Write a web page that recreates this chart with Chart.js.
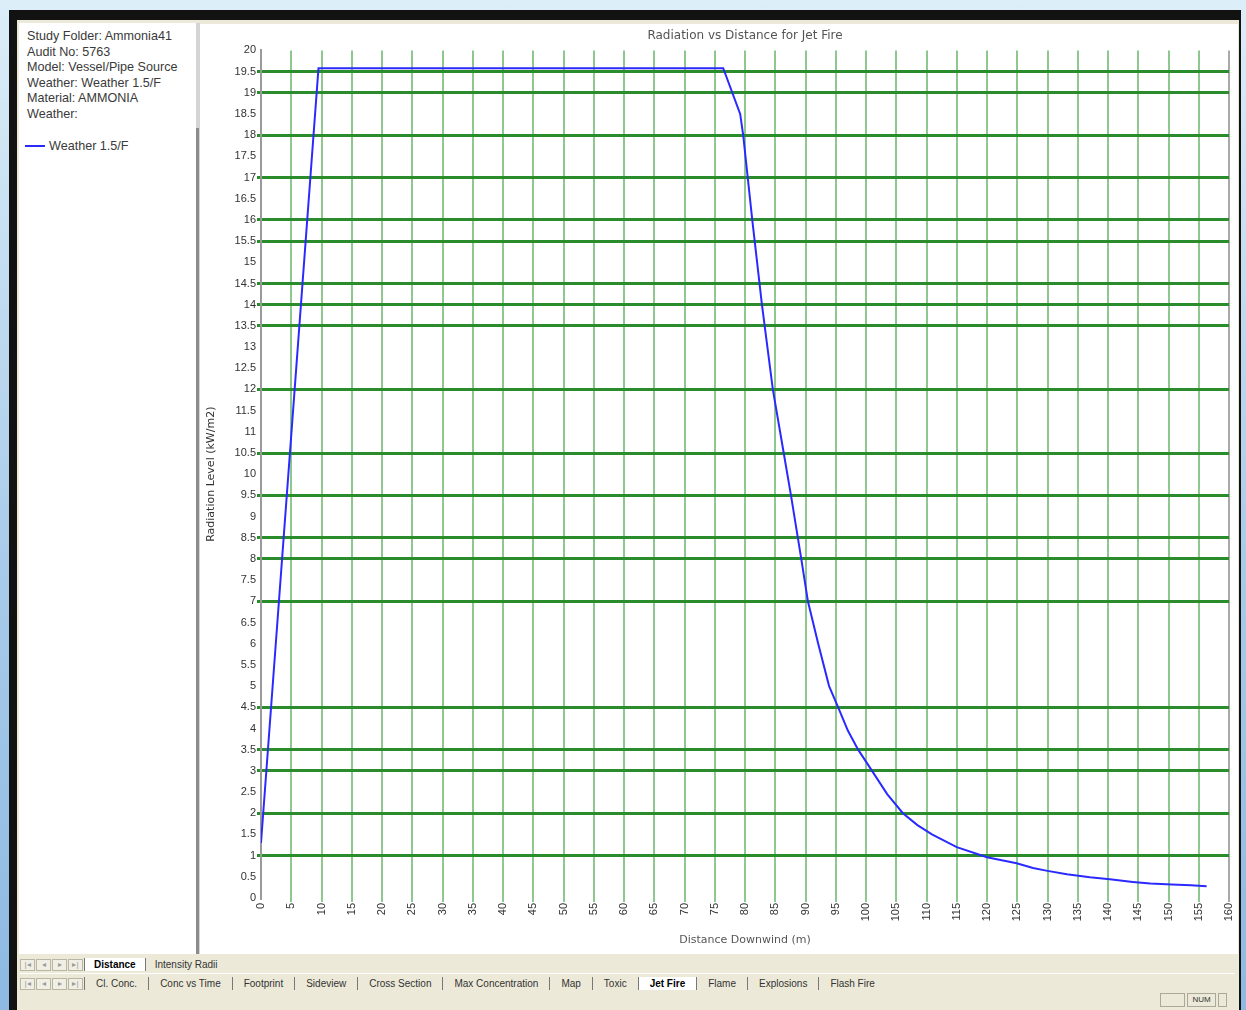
<!DOCTYPE html>
<html>
<head>
<meta charset="utf-8">
<script src="https://cdn.jsdelivr.net/npm/chart.js@4/dist/chart.umd.min.js"></script>
<style>
  body { margin: 0; width: 1246px; height: 1010px; overflow: hidden; position: relative;
         background: linear-gradient(#dceef8, #a9cbe9 55%, #8db9e2); font-family: "Liberation Sans", Arial, sans-serif; }
  #frame { position: absolute; left: 9px; top: 10px; width: 1232px; height: 1000px; background: #121212; }
  #inner { position: absolute; left: 17px; top: 20px; width: 1222px; height: 990px; background: #ece9d8; }
  #info { position: absolute; left: 19px; top: 23px; width: 177px; height: 931px; background: #fff;
          font-size: 12.6px; color: #3a3a3a; }
  #info .lines { position: absolute; left: 8px; top: 6px; line-height: 15.6px; white-space: nowrap; }
  #info .lines div { height: 15.6px; }
  #legend { position: absolute; left: 6px; top: 116px; display: flex; align-items: center; white-space: nowrap; }
  #legend i { display: inline-block; width: 20px; height: 2px; background: #2a2aff; margin-right: 4px; }
  #sepA { position: absolute; left: 196px; top: 23px; width: 4px; height: 931px; background: #d4d4d4; }
  #sepB { position: absolute; left: 196px; top: 128px; width: 3px; height: 826px; background: #8c8c8c; }
  #plot { position: absolute; left: 200px; top: 24px; width: 1038px; height: 930px; background: #fff; }
  .row { position: absolute; left: 20px; height: 15px; display: flex; align-items: center;
         font-size: 10px; color: #333; white-space: nowrap; }
  .nav { width: 15px; height: 12px; border: 1px solid #b9b6a6; box-sizing: border-box; margin-right: 1px;
         background: #f1efe4; color: #999; font-size: 8px; text-align: center; line-height: 10px; }
  .tab { padding: 0 11px 0 11px; border-left: 1px solid #777; line-height: 13px; }
  .tab.on { background: #fff; font-weight: bold; color: #000; }
  #row1 .tab { padding: 0 9px; }
  #row1 { top: 957px; }
  #row2 { top: 976px; }
  #rowline { position: absolute; left: 20px; top: 973px; width: 1215px; height: 1px; background: #fff; }
  .st { position: absolute; top: 993px; height: 14px; border: 1px solid #aca899; box-sizing: border-box;
        font-size: 8px; color: #333; text-align: center; line-height: 12px; }
</style>
</head>
<body>
<div id="frame"></div>
<div id="inner"></div>
<div id="info">
  <div class="lines">
    <div>Study Folder: Ammonia41</div>
    <div>Audit No: 5763</div>
    <div>Model: Vessel/Pipe Source</div>
    <div>Weather: Weather 1.5/F</div>
    <div>Material: AMMONIA</div>
    <div>Weather:</div>
  </div>
  <div id="legend"><i></i><span id="legendText"></span></div>
</div>
<div id="sepA"></div>
<div id="sepB"></div>
<div id="plot"><canvas id="chart"></canvas></div>
<div class="row" id="row1"></div>
<div id="rowline"></div>
<div class="row" id="row2"></div>
<div class="st" style="left:1160px;width:25px"></div>
<div class="st" style="left:1187px;width:29px">NUM</div>
<div class="st" style="left:1218px;width:9px"></div>

<script>
// radiation curve
const seriesName = 'Weather 1.5/F';
const distance = [0, 9.5, 76.4, 79.2, 79.7, 81.2, 82.8, 84.6, 86.4, 87.6, 89.3, 90.4, 92.1, 93.9, 95.4, 97.0,
  98.7, 101.0, 103.5, 106.1, 108.5, 110.9, 115.0, 120.0, 124.9, 127.6, 130.0, 133.2, 137.0, 140.3, 144.1, 147.0,
  150.5, 153.7, 156.3];
const radiation = [1.3, 19.58, 19.58, 18.5, 18.0, 16.0, 14.0, 12.0, 10.5, 9.5, 8.0, 7.0, 6.0, 5.0, 4.5, 3.95,
  3.5, 3.0, 2.45, 2.0, 1.72, 1.5, 1.2, 0.96, 0.82, 0.71, 0.64, 0.56, 0.49, 0.44, 0.38, 0.34,
  0.32, 0.3, 0.28];
// y values whose grid lines show in the screenshot
const shownY = [1, 2, 3, 3.5, 4.5, 7, 8, 8.5, 9.5, 10.5, 12, 13.5, 14, 14.5, 15.5, 16, 17, 18, 19, 19.5];

const row1Tabs = ['Distance', 'Intensity Radii'];
const row2Tabs = ['Cl. Conc.', 'Conc vs Time', 'Footprint', 'Sideview', 'Cross Section', 'Max Concentration',
  'Map', 'Toxic', 'Jet Fire', 'Flame', 'Explosions', 'Flash Fire'];

document.getElementById('legendText').textContent = seriesName;

function fillRow(id, tabs, active) {
  const row = document.getElementById(id);
  ['|◂', '◂', '▸', '▸|'].forEach(s => {
    const b = document.createElement('span');
    b.className = 'nav';
    b.textContent = s;
    row.appendChild(b);
  });
  tabs.forEach(t => {
    const s = document.createElement('span');
    s.className = 'tab' + (t === active ? ' on' : '');
    s.textContent = t;
    row.appendChild(s);
  });
}
fillRow('row1', row1Tabs, 'Distance');
fillRow('row2', row2Tabs, 'Jet Fire');

const font = { family: '"Liberation Sans", Arial, sans-serif', size: 11 };
const wide = { family: '"DejaVu Sans", sans-serif', size: 11 };

new Chart(document.getElementById('chart'), {
  type: 'line',
  data: {
    datasets: [{
      label: seriesName,
      data: distance.map((d, i) => ({ x: d, y: radiation[i] })),
      borderColor: '#2a2aff',
      borderWidth: 2,
      pointRadius: 0,
      tension: 0
    }]
  },
  options: {
    responsive: true,
    maintainAspectRatio: false,
    animation: false,
    layout: { padding: { right: 9 } },
    plugins: {
      legend: { display: false },
      tooltip: { enabled: false },
      title: {
        display: true,
        text: 'Radiation vs Distance for Jet Fire',
        fullSize: false,
        color: '#555',
        font: { family: wide.family, size: 12, weight: 'normal' },
        padding: { top: 5, bottom: 7 }
      }
    },
    scales: {
      x: {
        type: 'linear',
        min: 0,
        max: 160,
        afterFit: s => { s.height = 56; s.paddingRight = 0; s.paddingLeft = 0; },
        border: { display: false },
        grid: {
          lineWidth: 2,
          tickLength: 4,
          color: c => c.tick.value === 160 ? '#a9a9a9' : c.tick.value === 0 ? 'rgba(0,0,0,0)' : 'rgba(50,155,50,0.55)'
        },
        ticks: {
          stepSize: 5,
          autoSkip: false,
          minRotation: 90,
          maxRotation: 90,
          padding: 1,
          color: '#333',
          font: font
        },
        title: {
          display: true,
          text: 'Distance Downwind (m)',
          color: '#555',
          font: wide,
          padding: { top: 0, bottom: 7 }
        }
      },
      y: {
        min: 0,
        max: 20,
        afterFit: s => { s.width = 61; },
        border: { color: '#9a9a9a', width: 2 },
        grid: {
          lineWidth: 3,
          tickLength: 4,
          color: c => shownY.some(v => Math.abs(v - c.tick.value) < 1e-6) ? '#2b8c2b' : 'rgba(0,0,0,0)'
        },
        ticks: {
          stepSize: 0.5,
          autoSkip: false,
          padding: 1,
          color: '#333',
          font: font,
          callback: v => String(v)
        },
        title: {
          display: true,
          text: 'Radiation Level (kW/m2)',
          color: '#333',
          font: wide,
          padding: { top: 5, bottom: 0 }
        }
      }
    }
  }
});
</script>
</body>
</html>
